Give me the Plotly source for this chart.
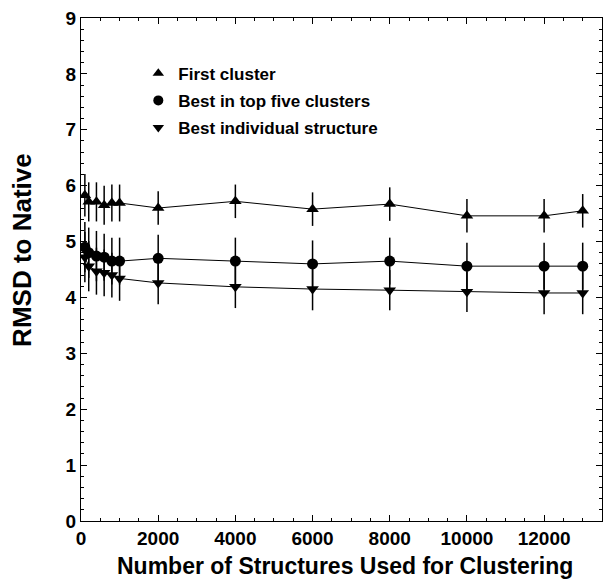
import plotly.graph_objects as go

# ---- data ----
n_structures = [100, 200, 400, 600, 800, 1000, 2000, 4000, 6000, 8000, 10000, 12000, 13000]
first_cluster = [5.83, 5.71, 5.71, 5.65, 5.69, 5.69, 5.60, 5.72, 5.58, 5.67, 5.46, 5.46, 5.55]
first_err = [0.38, 0.35, 0.35, 0.35, 0.33, 0.33, 0.30, 0.30, 0.30, 0.30, 0.30, 0.30, 0.30]
best_top5 = [4.90, 4.80, 4.74, 4.72, 4.65, 4.65, 4.70, 4.65, 4.60, 4.65, 4.56, 4.56, 4.56]
best_top5_err = [0.45, 0.45, 0.45, 0.42, 0.42, 0.42, 0.42, 0.42, 0.42, 0.42, 0.42, 0.42, 0.42]
best_indiv = [4.72, 4.56, 4.47, 4.44, 4.40, 4.34, 4.26, 4.19, 4.15, 4.13, 4.10, 4.08, 4.08]
best_indiv_err = [0.45, 0.45, 0.42, 0.42, 0.40, 0.40, 0.38, 0.38, 0.38, 0.36, 0.36, 0.38, 0.38]

series_names = ["First cluster", "Best in top five clusters", "Best individual structure"]
x_ticks = [0, 2000, 4000, 6000, 8000, 10000, 12000]
y_ticks = [0, 1, 2, 3, 4, 5, 6, 7, 8, 9]

FONT = "Liberation Sans, Arial, sans-serif"

fig = go.Figure()
series = [
    (first_cluster, first_err, "triangle-up", 11),
    (best_top5, best_top5_err, "circle", 11),
    (best_indiv, best_indiv_err, "triangle-down", 11),
]
for (ys, errs, sym, size), name in zip(series, series_names):
    fig.add_trace(go.Scatter(
        x=n_structures, y=ys, mode="lines+markers", name=name, showlegend=False,
        line=dict(color="black", width=1),
        marker=dict(symbol=sym, size=size, color="black"),
        error_y=dict(type="data", array=errs, visible=True, color="black", thickness=1.5, width=0),
    ))
for i, ((ys, errs, sym, size), name) in enumerate(zip(series, series_names)):
    fig.add_trace(go.Scatter(
        x=[None], y=[None], mode="markers", name=name, legendgroup=f"g{i}",
        marker=dict(symbol=sym, size=10, color="black"),
    ))

axis_common = dict(
    showline=True, linecolor="black", linewidth=1, mirror="allticks",
    ticks="inside", ticklen=6, tickcolor="black", tickwidth=1,
    showgrid=False, zeroline=False,
    tickfont=dict(family=FONT, size=19, color="black", weight="bold"),
)
fig.update_xaxes(range=[0, 13500], tickvals=x_ticks, ticktext=[str(v) for v in x_ticks],
                 minor=dict(dtick=500, ticks="inside", ticklen=3, tickcolor="black", showgrid=False),
                 **axis_common)
fig.update_yaxes(range=[0, 9], tickvals=y_ticks, ticktext=[str(v) for v in y_ticks],
                 minor=dict(dtick=0.2, ticks="inside", ticklen=3, tickcolor="black", showgrid=False),
                 **axis_common)

fig.add_annotation(text="RMSD to Native", xref="paper", yref="paper", x=0, y=0.539,
                   xshift=-59, textangle=-90, showarrow=False, xanchor="center", yanchor="middle",
                   font=dict(family=FONT, size=26, color="black", weight="bold"))
fig.add_annotation(text="Number of Structures Used for Clustering", xref="paper", yref="paper",
                   x=0.507, y=0, yshift=-45, showarrow=False, xanchor="center", yanchor="middle",
                   font=dict(family=FONT, size=23, color="black", weight="bold"))

fig.update_layout(
    width=603, height=580,
    margin=dict(l=81, r=1, t=18, b=59),
    paper_bgcolor="white", plot_bgcolor="white",
    legend=dict(x=0.11, y=0.925, xanchor="left", yanchor="top", bgcolor="rgba(0,0,0,0)",
                traceorder="grouped", tracegroupgap=2,
                font=dict(family=FONT, size=17, color="black", weight="bold")),
)
fig.write_html("out.html")
